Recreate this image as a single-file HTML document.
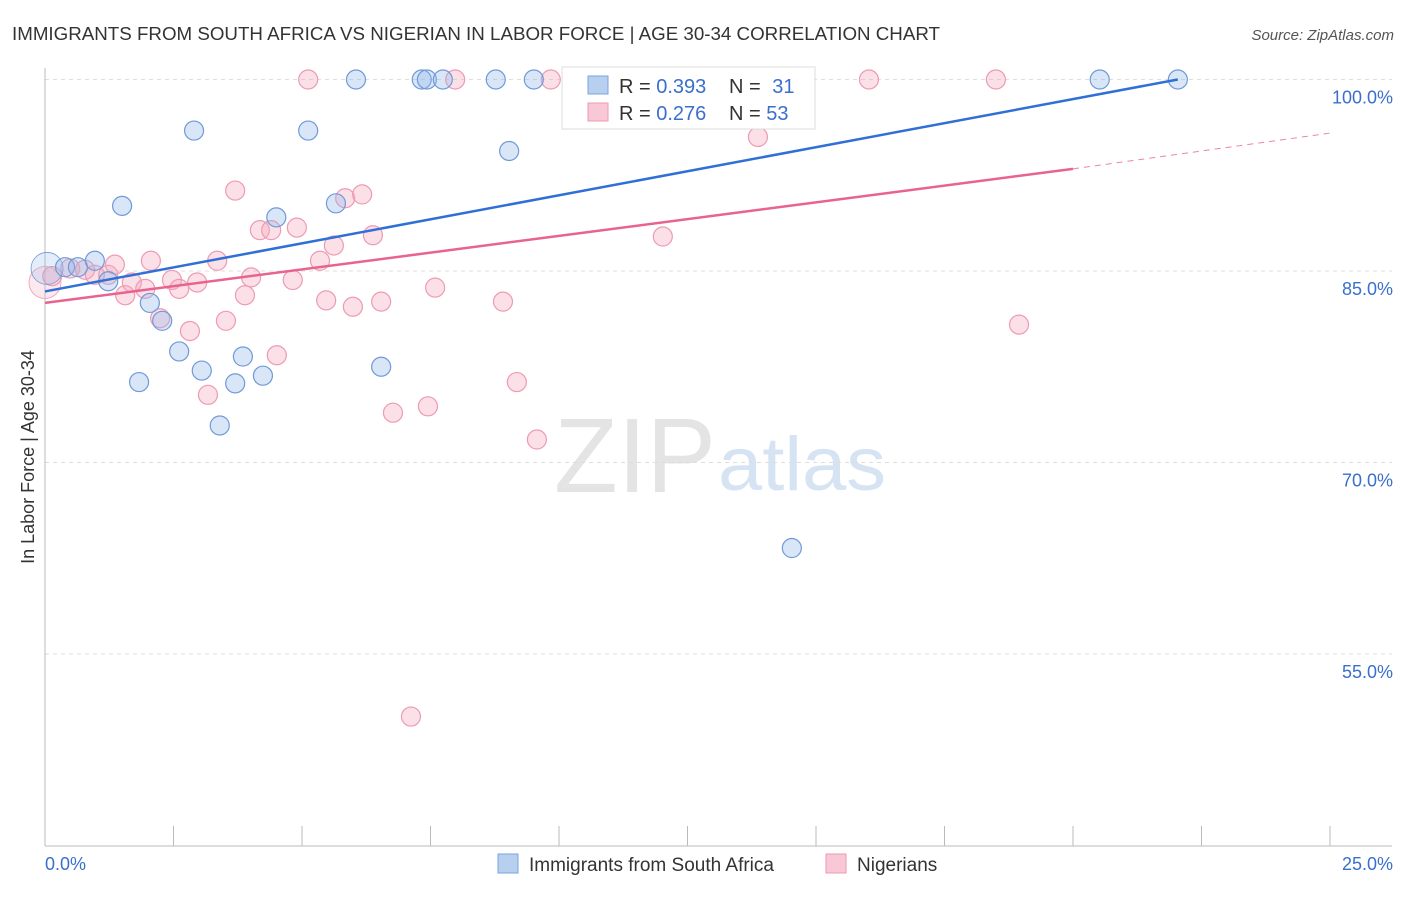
<!DOCTYPE html>
<html><head><meta charset="utf-8"><style>
body{margin:0;background:#fff;font-family:"Liberation Sans",sans-serif}
svg text{font-family:"Liberation Sans",sans-serif}
</style></head><body>
<svg id="chart" width="1406" height="892" xmlns="http://www.w3.org/2000/svg">
<text x="12" y="40" font-size="18" fill="#333" textLength="928" lengthAdjust="spacingAndGlyphs">IMMIGRANTS FROM SOUTH AFRICA VS NIGERIAN IN LABOR FORCE | AGE 30-34 CORRELATION CHART</text>
<text x="1394" y="40" font-size="15" fill="#555" text-anchor="end" font-style="italic">Source: ZipAtlas.com</text>
<text x="716" y="492" font-size="106" fill="#e4e4e4" text-anchor="end" font-family="Liberation Serif" textLength="162" lengthAdjust="spacingAndGlyphs">ZIP</text>
<text x="718" y="490" font-size="76" fill="#d6e3f3" textLength="168" lengthAdjust="spacingAndGlyphs">atlas</text>
<g id="grid"></g><g id="axes"></g><g id="marks"></g><g id="lines"></g>
<text transform="translate(34,457) rotate(-90)" font-size="18" fill="#333" text-anchor="middle">In Labor Force | Age 30-34</text>
<g>
<rect x="562" y="67" width="253" height="62" fill="#fff" stroke="#ddd"/>
<rect x="588" y="76" width="20" height="18" fill="#b8d0f0" stroke="#7aa3dd"/>
<rect x="588" y="103" width="20" height="18" fill="#f9c8d6" stroke="#ee9ab3"/>
<text x="619" y="93" font-size="20" fill="#333">R = <tspan fill="#3a6fcc">0.393</tspan></text>
<text x="729" y="93" font-size="20" fill="#333">N = <tspan fill="#3a6fcc" dx="6">31</tspan></text>
<text x="619" y="120" font-size="20" fill="#333">R = <tspan fill="#3a6fcc">0.276</tspan></text>
<text x="729" y="120" font-size="20" fill="#333">N = <tspan fill="#3a6fcc">53</tspan></text>
</g>
<g>
<rect x="498" y="854" width="20" height="19" fill="#b8d0f0" stroke="#7aa3dd"/>
<text x="529" y="871" font-size="19" fill="#333">Immigrants from South Africa</text>
<rect x="826" y="854" width="20" height="19" fill="#f9c8d6" stroke="#ee9ab3"/>
<text x="857" y="871" font-size="19" fill="#333">Nigerians</text>
</g>
</svg>
<script>
const yTicks=[100,85,70,55];
const yTickLabels=["100.0%","85.0%","70.0%","55.0%"];
const xTicks=[0,2.5,5,7.5,10,12.5,15,17.5,20,22.5,25];
const blueX=[0.04,0.39,0.64,0.97,1.23,1.50,1.83,2.04,2.28,2.61,2.90,3.05,3.40,3.70,3.85,4.24,4.50,5.12,5.66,6.05,6.54,7.33,7.43,7.74,8.77,9.03,9.51,10.76,11.28,14.53,20.52,22.04];
const blueY=[85.2,85.3,85.3,85.8,84.2,90.1,76.3,82.5,81.1,78.7,96.0,77.2,72.9,76.2,78.3,76.8,89.2,96.0,90.3,100,77.5,100,100,100,100,94.4,100,100,100,63.3,100,100];
const pinkX=[0,0.14,0.49,0.78,0.97,1.23,1.36,1.56,1.69,1.95,2.06,2.24,2.47,2.61,2.82,2.96,3.17,3.35,3.52,3.70,3.89,4.01,4.18,4.40,4.51,4.82,4.90,5.12,5.35,5.47,5.62,5.84,5.99,6.17,6.38,6.54,6.77,7.12,7.45,7.59,7.98,8.91,9.18,9.57,9.84,10.60,12.02,13.87,16.03,18.50,18.95];
const pinkY=[84.1,84.6,85.2,85.1,84.7,84.7,85.5,83.1,84.1,83.6,85.8,81.3,84.3,83.6,80.3,84.1,75.3,85.8,81.1,91.3,83.1,84.5,88.2,88.2,78.4,84.3,88.4,100,85.8,82.7,87.0,90.7,82.2,91.0,87.8,82.6,73.9,50.1,74.4,83.7,100,82.6,76.3,71.8,100,100,87.7,95.5,100,100,80.8];
const blueTrend=[[0,83.4],[22.04,100]];
const pinkTrend=[[0,82.5],[20,93.0]];
const pinkTrendExt=[[20,93.0],[25,95.8]];

const NS="http://www.w3.org/2000/svg";
const X=v=>45+v/25*1285;
const Y=v=>79.5+(100-v)/15*191.5;
function mk(tag,attrs,parent){const e=document.createElementNS(NS,tag);for(const k in attrs)e.setAttribute(k,attrs[k]);document.getElementById(parent).appendChild(e);return e;}
yTicks.forEach((t,i)=>{
  const g=mk('line',{x1:45,x2:1392,y1:Y(t),y2:Y(t),stroke:'#ddd','stroke-dasharray':'4,4'},'grid');
  
  
  const tx=mk('text',{x:1393,y:Y(t)+24,'font-size':18,fill:'#3a6fcc','text-anchor':'end'},'grid');
  tx.textContent=yTickLabels[i];
  
  
});
const ax=mk('line',{x1:45,x2:45,y1:68,y2:846,stroke:'#bbb'},'axes');


const bx=mk('line',{x1:45,x2:1392,y1:846,y2:846,stroke:'#bbb'},'axes');


xTicks.forEach(t=>{
  const l=mk('line',{x1:X(t),x2:X(t),y1:826,y2:846,stroke:'#bbb'},'axes');
  
  
});
const xl0=mk('text',{x:45,y:870,'font-size':18,fill:'#3a6fcc'},'axes');xl0.textContent='0.0%';


const xl1=mk('text',{x:1393,y:870,'font-size':18,fill:'#3a6fcc','text-anchor':'end'},'axes');xl1.textContent='25.0%';


function dots(xs,ys,fill,stroke,name){
  xs.forEach((x,i)=>{
    const r=(i===0)?16:9.5;
    const c=mk('circle',{cx:X(x),cy:Y(ys[i]),r:r,fill:fill,'fill-opacity':i===0?0.25:0.35,stroke:stroke,'stroke-width':i===0?0.8:1.2},'marks');
    
    
  });
}
dots(pinkX,pinkY,'#f4a6be','#ee9ab3','nigerian-point');
dots(blueX,blueY,'#93b8ea','#6f9ad8','south-africa-point');
function line(p,color,name,dash){
  const l=mk('line',{x1:X(p[0][0]),y1:Y(p[0][1]),x2:X(p[1][0]),y2:Y(p[1][1]),stroke:color,'stroke-width':dash?1:2.5},'lines');
  if(dash)l.setAttribute('stroke-dasharray','6,5');
  
  
}
line(blueTrend,'#2f6fd6','south-africa-trendline');
line(pinkTrend,'#e8638f','nigerian-trendline');
line(pinkTrendExt,'#e8889f','nigerian-trendline-extension',true);
</script>
</body></html>
